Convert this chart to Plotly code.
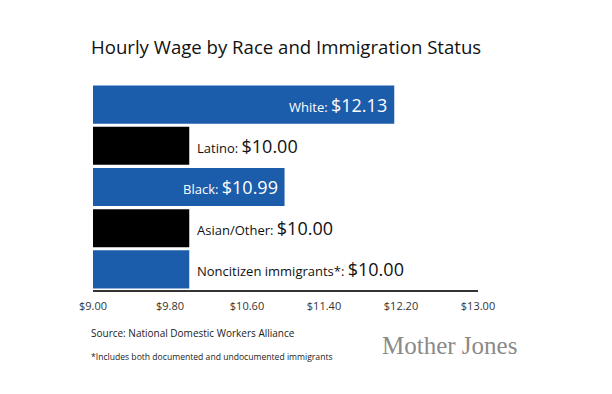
import plotly.graph_objects as go

categories = ["White", "Latino", "Black", "Asian/Other", "Noncitizen immigrants*"]
wages = [12.13, 10.00, 10.99, 10.00, 10.00]
bar_colors = ["#1b5cab", "#000000", "#1b5cab", "#000000", "#1b5cab"]
tick_vals = [9.00, 9.80, 10.60, 11.40, 12.20, 13.00]
tick_text = ["$9.00", "$9.80", "$10.60", "$11.40", "$12.20", "$13.00"]

FONT = "Open Sans"
base = 9.0

W, H = 612, 394
L, R = 93, 478
T, B = 84, 290


def px(x):
    return (x - L) / (R - L)


def py(y):
    return (B - y) / (B - T)


fig = go.Figure()
fig.add_trace(go.Bar(
    y=categories,
    x=[w - base for w in wages],
    base=base,
    orientation="h",
    marker=dict(color=bar_colors, line=dict(width=0)),
    hoverinfo="skip",
))

annotations = []
for cat, w in zip(categories, wages):
    inside = w > 10.5
    color = "white" if inside else "#111111"
    txt = (f"<span style='font-size:13px'>{cat}: </span>"
           f"<span style='font-size:18px'>${w:.2f}</span>")
    annotations.append(dict(
        x=w, y=cat, xref="x", yref="y",
        text=txt, showarrow=False,
        xanchor="right" if inside else "left",
        xshift=-5 if inside else 6,
        font=dict(family=FONT, color=color, size=13),
    ))

paper_ann = [
    dict(text="Hourly Wage by Race and Immigration Status",
         x=px(89), y=py(46), xanchor="left", yanchor="middle",
         font=dict(family=FONT, size=18.6, color="#111111")),
    dict(text="Source: National Domestic Workers Alliance",
         x=px(89), y=py(333), xanchor="left", yanchor="middle",
         font=dict(family=FONT, size=10, color="#222222")),
    dict(text="*Includes both documented and undocumented immigrants",
         x=px(89), y=py(357), xanchor="left", yanchor="middle",
         font=dict(family=FONT, size=8.6, color="#222222")),
    dict(text="Mother Jones",
         x=px(380), y=py(345), xanchor="left", yanchor="middle",
         font=dict(family="Liberation Serif", size=25, color="#8a8a8a")),
]
for a in paper_ann:
    a.update(xref="paper", yref="paper", showarrow=False)
    annotations.append(a)

fig.update_layout(
    width=W, height=H,
    margin=dict(l=L, r=W - R, t=T, b=H - B, pad=0),
    paper_bgcolor="white", plot_bgcolor="white",
    showlegend=False,
    bargap=0.075,
    annotations=annotations,
    xaxis=dict(
        range=[9.0, 13.0], tickvals=tick_vals, ticktext=tick_text,
        showgrid=False, zeroline=False, showline=True,
        linecolor="#333333", linewidth=1.5, ticks="",
        ticklabelstandoff=5,
        tickfont=dict(family=FONT, size=11, color="#333333"),
        fixedrange=True,
    ),
    yaxis=dict(
        categoryorder="array", categoryarray=categories[::-1],
        showticklabels=False, showgrid=False, zeroline=False,
        showline=False, ticks="", fixedrange=True,
    ),
)

fig.write_html("out.html", config={"displayModeBar": False},
               post_script="document.body.style.margin='0';document.body.style.overflow='hidden';")
